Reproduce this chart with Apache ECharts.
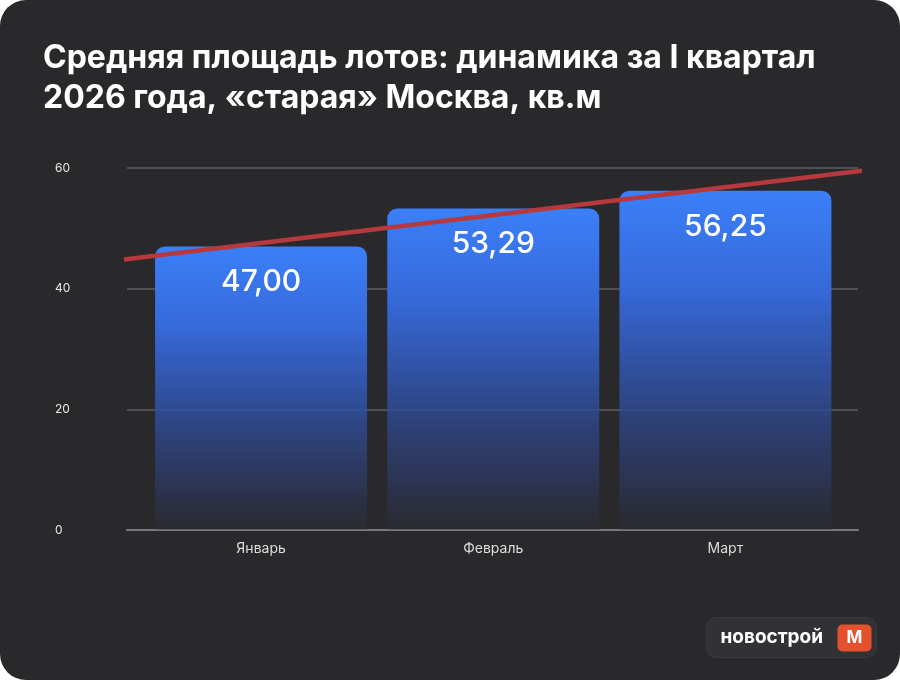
<!DOCTYPE html>
<html>
<head>
<meta charset="utf-8">
<title>Средняя площадь лотов</title>
<script src="https://cdn.jsdelivr.net/npm/echarts@6/dist/echarts.min.js"></script>
<style>
    html, body { margin: 0; padding: 0; background: #ffffff; }
    #chart {
        width: 900px;
        height: 680px;
        background: #29292b;
        border-radius: 26px;
        overflow: hidden;
    }
</style>
</head>
<body>
<div id="chart"></div>
<script>
var months = ['Январь', 'Февраль', 'Март'];
var area = [47.00, 53.29, 56.25];
var yTicks = [0, 20, 40, 60];
var titleLines = ['Средняя площадь лотов: динамика за I квартал', '2026 года, «старая» Москва, кв.м'];

// how far the trend line runs past the first and last bar (in categories)
var trendExtent = [-0.59, 2.59];

(function() {
    drawChart();
})();

function trendPoints(values, extent) {
    // least squares line through the bar values
    var n = values.length;
    var sx = 0, sy = 0, sxy = 0, sxx = 0;
    for (var i = 0; i < n; i++) {
        sx += i;
        sy += values[i];
        sxy += i * values[i];
        sxx += i * i;
    }
    var slope = (n * sxy - sx * sy) / (n * sxx - sx * sx);
    var icpt = (sy - slope * sx) / n;
    return extent.map(function(x) {
        return [x, icpt + slope * x];
    });
}

function drawChart() {
    var chart = echarts.init(document.getElementById('chart'));

    var yMax = yTicks[yTicks.length - 1];
    var yStep = yTicks[1] - yTicks[0];

    var barColor = new echarts.graphic.LinearGradient(0, 0, 0, 1, [
        { offset: 0, color: '#3b7ff9' },
        { offset: 0.3, color: 'rgba(54,104,214,1)' },
        { offset: 0.55, color: 'rgba(48,82,165,0.9)' },
        { offset: 0.85, color: 'rgba(46,60,110,0.6)' },
        { offset: 1, color: 'rgba(44,48,64,0.3)' }
    ]);

    var option = {
        backgroundColor: 'transparent',
        animation: false,
        title: {
            text: titleLines.join('\n'),
            left: 38,
            top: 33,
            textStyle: {
                color: '#ffffff',
                fontFamily: 'Inter',
                fontWeight: 700,
                fontSize: 32,
                lineHeight: 40
            }
        },
        grid: [
            { left: 127, right: 42, top: 168, bottom: 150 },
            { left: 145, right: 58.5, top: 168, bottom: 150 },
            { left: 124, right: 38, top: 168, bottom: 150 }
        ],
        xAxis: [
            {
                gridIndex: 0,
                type: 'category',
                data: months,
                axisLine: { show: true, lineStyle: { color: '#7a7a7c', width: 2 } },
                axisTick: { show: false },
                axisLabel: { show: false }
            },
            {
                gridIndex: 1,
                type: 'category',
                data: months,
                axisLine: { show: false },
                axisTick: { show: false },
                axisLabel: {
                    color: '#dcdcdc',
                    fontFamily: 'Inter',
                    fontSize: 14,
                    margin: 12
                }
            },
            {
                gridIndex: 2,
                type: 'value',
                min: trendExtent[0],
                max: trendExtent[1],
                show: false
            }
        ],
        yAxis: [
            {
                gridIndex: 0,
                type: 'value',
                min: 0,
                max: yMax,
                interval: yStep,
                axisLine: { show: false },
                axisTick: { show: false },
                splitLine: { lineStyle: { color: '#5e5e60', width: 1.5 } },
                axisLabel: {
                    color: '#e6e6e6',
                    fontFamily: 'Inter',
                    fontSize: 12,
                    align: 'left',
                    margin: 72
                }
            },
            { gridIndex: 1, type: 'value', min: 0, max: yMax, show: false },
            { gridIndex: 2, type: 'value', min: 0, max: yMax, show: false }
        ],
        graphic: [
            {
                type: 'group',
                left: 706,
                top: 617,
                children: [
                    {
                        type: 'rect',
                        shape: { x: 0, y: 0, width: 170, height: 40, r: 10 },
                        style: { fill: '#323235', stroke: '#3b3b3e', lineWidth: 1 }
                    },
                    {
                        type: 'text',
                        x: 14,
                        y: 20,
                        style: {
                            text: 'новострой',
                            fill: '#ffffff',
                            font: '700 19px Inter',
                            verticalAlign: 'middle'
                        }
                    },
                    {
                        type: 'rect',
                        shape: { x: 131, y: 7, width: 34, height: 27, r: 5 },
                        style: { fill: '#e5502f' }
                    },
                    {
                        type: 'text',
                        x: 148,
                        y: 20.5,
                        style: {
                            text: 'М',
                            fill: '#ffffff',
                            font: '700 17px Inter',
                            align: 'center',
                            verticalAlign: 'middle'
                        }
                    }
                ]
            }
        ],
        series: [
            {
                name: 'Средняя площадь',
                type: 'bar',
                xAxisIndex: 1,
                yAxisIndex: 1,
                barWidth: 212,
                data: area,
                itemStyle: {
                    color: barColor,
                    borderRadius: [10, 10, 0, 0]
                },
                label: {
                    show: true,
                    position: 'insideTop',
                    distance: 21,
                    color: '#ffffff',
                    fontFamily: 'Inter',
                    fontWeight: 500,
                    fontSize: 30,
                    formatter: function(p) {
                        return p.value.toFixed(2).replace('.', ',');
                    }
                }
            },
            {
                name: 'Тренд',
                type: 'line',
                xAxisIndex: 2,
                yAxisIndex: 2,
                data: trendPoints(area, trendExtent),
                symbol: 'none',
                z: 5,
                lineStyle: { color: '#b8393d', width: 4.5 }
            }
        ]
    };

    chart.setOption(option);
}
</script>
</body>
</html>
